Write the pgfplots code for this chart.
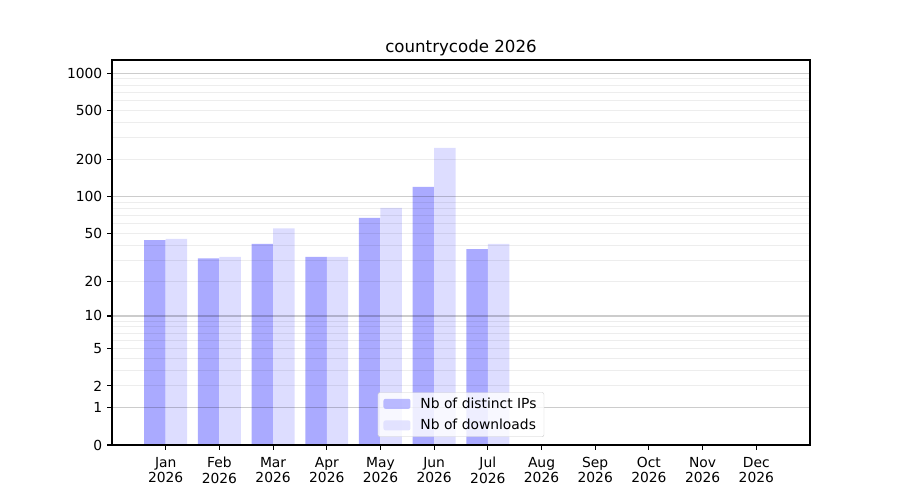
\documentclass[border=0pt]{standalone}
\usepackage{fontspec}
\setmainfont{DejaVu Sans}
\usepackage{pgfplots}
\usepackage{pgfplotstable}
\pgfplotsset{compat=1.18}
\pgfplotstableread{
m ips dl
0 44 45
1 31 32
2 41 55
3 32 32
4 67 81
5 120 249
6 37 41
}\datatab
\newcommand\tickfont{\fontsize{13.9}{16}\selectfont}
\pgfplotsset{mylegend/.style={legend image code/.code={\path[##1, draw=none] (0bp,-5bp) rectangle (27bp,5bp); \path (35bp,0bp);}}}
\begin{document}
\tickfont
\begin{tikzpicture}[font=\tickfont]
\useasboundingbox (0,0) rectangle (900bp,500bp);
\begin{axis}[
  at={(112bp,55bp)}, anchor=south west,
  scale only axis, width=698bp, height=385bp,
  xmin=-1, xmax=12, ymin=0, ymax=3.107,
  font=\tickfont,
  /pgf/number format/assume math mode=true,
  axis on top=true,
  axis line style={line width=1.1bp},
  tick style={line width=1.1bp, black},
  tick align=outside, major tick length=4.9bp, minor tick length=0pt,
  xtick pos=bottom, ytick pos=left,
  xtick={0,1,2,3,4,5,6,7,8,9,10,11},
  xticklabels={Jan\\2026,Feb\\2026,Mar\\2026,Apr\\2026,May\\2026,Jun\\2026,Jul\\2026,Aug\\2026,Sep\\2026,Oct\\2026,Nov\\2026,Dec\\2026},
  every tick label/.append style={font=\tickfont},
  x tick label style={align=center, inner sep=2bp, yshift=-5bp, font=\fontsize{13.9}{15.5}\selectfont},
  ytick={0,0.30103,0.47712,0.77815,1.04139,1.32222,1.70757,2.00432,2.30320,2.69984,3.00043},
  yticklabels={0,1,2,5,10,20,50,100,200,500,1000},
  minor ytick={0.47712,0.60206,0.69897,0.77815,0.84510,0.90309,0.95424,1.0,
    1.32222,1.49136,1.61278,1.70757,1.78533,1.85126,1.90849,1.95904,
    2.30320,2.47857,2.60314,2.69984,2.77887,2.84572,2.90363,2.95472},
  yminorgrids=true,
  minor grid style={black, opacity=0.07, line width=1.1bp},
  extra y ticks={0.30103,1.04139,2.00432,3.00043},
  extra y tick labels={},
  extra y tick style={ymajorgrids=true, major grid style={black, opacity=0.2, line width=1.1bp}},
  title={countrycode 2026},
  title style={font=\fontsize{16.7}{20}\selectfont, yshift=-7bp},
  legend style={at={(0.5,0.021)}, anchor=south, font=\tickfont,
    fill=white, fill opacity=0.8, text opacity=1, draw=black!20, rounded corners=2bp,
    row sep=5bp, inner xsep=5.5bp, inner ysep=3bp,
    nodes={inner sep=2bp}},
  legend cell align=left,
]
\addplot[ybar, bar width=0.4, bar shift=-0.2, fill={rgb,255:red,170;green,170;blue,255}, draw=none, mylegend]
  table[x=m, y expr={ln(1+\thisrow{ips})/ln(10)}] {\datatab};
\addlegendentry{Nb of distinct IPs}
\addplot[ybar, bar width=0.4, bar shift=0.2, fill={rgb,255:red,221;green,221;blue,255}, draw=none, mylegend]
  table[x=m, y expr={ln(1+\thisrow{dl})/ln(10)}] {\datatab};
\addlegendentry{Nb of downloads}
\end{axis}
\end{tikzpicture}
\end{document}
